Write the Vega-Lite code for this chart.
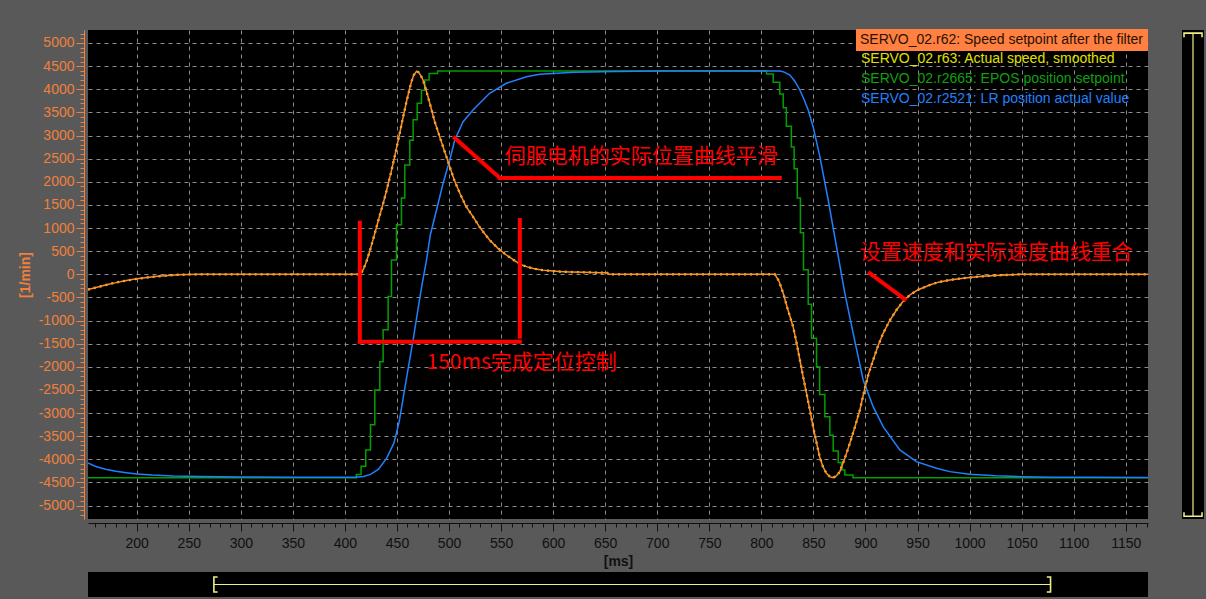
{
  "$schema": "https://vega.github.io/schema/vega-lite/v6.json",
  "background": "#595959",
  "padding": {"left": 18, "top": 26, "right": 0, "bottom": 3},
  "config": {
    "view": {"fill": "#000000", "stroke": null},
    "font": "Liberation Sans"
  },
  "datasets": {
    "speed": [
      {"t": 153.2, "r62": -330, "r63": -330},
      {"t": 160, "r62": -290, "r63": -290},
      {"t": 170, "r62": -232, "r63": -232},
      {"t": 180, "r62": -180, "r63": -180},
      {"t": 190, "r62": -135, "r63": -135},
      {"t": 200, "r62": -98, "r63": -98},
      {"t": 210, "r62": -68, "r63": -68},
      {"t": 220, "r62": -44, "r63": -44},
      {"t": 230, "r62": -25, "r63": -25},
      {"t": 240, "r62": -10, "r63": -10},
      {"t": 250, "r62": -2, "r63": -2},
      {"t": 260, "r62": 0, "r63": 0},
      {"t": 415, "r62": 0, "r63": 0},
      {"t": 418, "r62": 120, "r63": 120},
      {"t": 421, "r62": 300, "r63": 300},
      {"t": 424, "r62": 510, "r63": 510},
      {"t": 427, "r62": 750, "r63": 750},
      {"t": 430, "r62": 990, "r63": 990},
      {"t": 433, "r62": 1240, "r63": 1240},
      {"t": 436.7, "r62": 1530, "r63": 1530},
      {"t": 440, "r62": 1810, "r63": 1810},
      {"t": 444.7, "r62": 2240, "r63": 2240},
      {"t": 448, "r62": 2570, "r63": 2570},
      {"t": 452.7, "r62": 3060, "r63": 3060},
      {"t": 456, "r62": 3410, "r63": 3410},
      {"t": 459, "r62": 3720, "r63": 3720},
      {"t": 462, "r62": 4000, "r63": 4000},
      {"t": 464, "r62": 4170, "r63": 4170},
      {"t": 466, "r62": 4300, "r63": 4300},
      {"t": 468.8, "r62": 4390, "r63": 4390},
      {"t": 471, "r62": 4360, "r63": 4360},
      {"t": 473, "r62": 4290, "r63": 4290},
      {"t": 475, "r62": 4200, "r63": 4200},
      {"t": 478, "r62": 3980, "r63": 3980},
      {"t": 481.5, "r62": 3697, "r63": 3697},
      {"t": 486, "r62": 3320, "r63": 3320},
      {"t": 491, "r62": 2975, "r63": 2975},
      {"t": 496, "r62": 2640, "r63": 2640},
      {"t": 500.7, "r62": 2326, "r63": 2326},
      {"t": 505, "r62": 2040, "r63": 2040},
      {"t": 510.4, "r62": 1751, "r63": 1751},
      {"t": 516, "r62": 1480, "r63": 1480},
      {"t": 523, "r62": 1245, "r63": 1245},
      {"t": 530, "r62": 1000, "r63": 1000},
      {"t": 539, "r62": 741, "r63": 741},
      {"t": 547, "r62": 560, "r63": 560},
      {"t": 555, "r62": 417, "r63": 417},
      {"t": 562, "r62": 310, "r63": 310},
      {"t": 568, "r62": 220, "r63": 220},
      {"t": 575, "r62": 160, "r63": 160},
      {"t": 583, "r62": 115, "r63": 115},
      {"t": 590, "r62": 90, "r63": 90},
      {"t": 597, "r62": 75, "r63": 75},
      {"t": 606, "r62": 60, "r63": 60},
      {"t": 616, "r62": 50, "r63": 50},
      {"t": 630, "r62": 42, "r63": 42},
      {"t": 645, "r62": 36, "r63": 36},
      {"t": 652, "r62": 32, "r63": 32},
      {"t": 653, "r62": 0, "r63": 0},
      {"t": 813, "r62": 0, "r63": 0},
      {"t": 817, "r62": -150, "r63": -150},
      {"t": 821, "r62": -411, "r63": -411},
      {"t": 825, "r62": -730, "r63": -730},
      {"t": 830.5, "r62": -1132, "r63": -1132},
      {"t": 834, "r62": -1500, "r63": -1500},
      {"t": 837, "r62": -1853, "r63": -1853},
      {"t": 840, "r62": -2200, "r63": -2200},
      {"t": 843.4, "r62": -2573, "r63": -2573},
      {"t": 847, "r62": -2980, "r63": -2980},
      {"t": 849.7, "r62": -3294, "r63": -3294},
      {"t": 853, "r62": -3640, "r63": -3640},
      {"t": 856, "r62": -3943, "r63": -3943},
      {"t": 859, "r62": -4150, "r63": -4150},
      {"t": 862.5, "r62": -4302, "r63": -4302},
      {"t": 866, "r62": -4380, "r63": -4380},
      {"t": 869, "r62": -4395, "r63": -4395},
      {"t": 872, "r62": -4360, "r63": -4360},
      {"t": 875.4, "r62": -4266, "r63": -4266},
      {"t": 880, "r62": -3990, "r63": -3990},
      {"t": 885, "r62": -3654, "r63": -3654},
      {"t": 890, "r62": -3290, "r63": -3290},
      {"t": 894.6, "r62": -2933, "r63": -2933},
      {"t": 899.4, "r62": -2465, "r63": -2465},
      {"t": 903, "r62": -2150, "r63": -2150},
      {"t": 907.4, "r62": -1853, "r63": -1853},
      {"t": 912, "r62": -1550, "r63": -1550},
      {"t": 917, "r62": -1276, "r63": -1276},
      {"t": 923, "r62": -1010, "r63": -1010},
      {"t": 929.8, "r62": -772, "r63": -772},
      {"t": 936, "r62": -590, "r63": -590},
      {"t": 942.6, "r62": -447, "r63": -447},
      {"t": 950, "r62": -340, "r63": -340},
      {"t": 961.8, "r62": -231, "r63": -231},
      {"t": 970, "r62": -170, "r63": -170},
      {"t": 981, "r62": -123, "r63": -123},
      {"t": 990, "r62": -95, "r63": -95},
      {"t": 1000, "r62": -70, "r63": -70},
      {"t": 1010, "r62": -48, "r63": -48},
      {"t": 1020, "r62": -32, "r63": -32},
      {"t": 1030, "r62": -20, "r63": -20},
      {"t": 1040, "r62": -10, "r63": -10},
      {"t": 1048, "r62": 0, "r63": 0},
      {"t": 1171.4, "r62": 0, "r63": 0}
    ],
    "epos": [
      {"t": 153.2, "r2665": -4400},
      {"t": 411, "r2665": -4330},
      {"t": 415.5, "r2665": -4150},
      {"t": 420, "r2665": -3800},
      {"t": 424.5, "r2665": -3250},
      {"t": 428.7, "r2665": -2500},
      {"t": 433.5, "r2665": -1890},
      {"t": 436.7, "r2665": -1200},
      {"t": 441.5, "r2665": -480},
      {"t": 444.7, "r2665": 310},
      {"t": 449.5, "r2665": 1070},
      {"t": 454.3, "r2665": 1650},
      {"t": 457.5, "r2665": 2360},
      {"t": 462.3, "r2665": 2900},
      {"t": 465.5, "r2665": 3340},
      {"t": 469.4, "r2665": 3700},
      {"t": 473.5, "r2665": 3980},
      {"t": 476.7, "r2665": 4200},
      {"t": 480.9, "r2665": 4340},
      {"t": 489, "r2665": 4395},
      {"t": 805, "r2665": 4330},
      {"t": 811.4, "r2665": 4150},
      {"t": 817.7, "r2665": 3900},
      {"t": 821, "r2665": 3600},
      {"t": 824, "r2665": 3200},
      {"t": 828.8, "r2665": 2750},
      {"t": 831.5, "r2665": 2280},
      {"t": 834.5, "r2665": 1650},
      {"t": 837.5, "r2665": 900},
      {"t": 840.5, "r2665": 100},
      {"t": 845, "r2665": -650},
      {"t": 848.2, "r2665": -1380},
      {"t": 853, "r2665": -2000},
      {"t": 856, "r2665": -2600},
      {"t": 861, "r2665": -3080},
      {"t": 865.8, "r2665": -3480},
      {"t": 869, "r2665": -3820},
      {"t": 873.8, "r2665": -4070},
      {"t": 877, "r2665": -4230},
      {"t": 880.2, "r2665": -4340},
      {"t": 888, "r2665": -4400},
      {"t": 1171.4, "r2665": -4400}
    ],
    "lr": [
      {"t": 153.2, "r2521": -4080},
      {"t": 160, "r2521": -4150},
      {"t": 170, "r2521": -4215},
      {"t": 180, "r2521": -4260},
      {"t": 190, "r2521": -4290},
      {"t": 200, "r2521": -4315},
      {"t": 215, "r2521": -4340},
      {"t": 235, "r2521": -4360},
      {"t": 260, "r2521": -4372},
      {"t": 300, "r2521": -4382},
      {"t": 350, "r2521": -4388},
      {"t": 410, "r2521": -4390},
      {"t": 418, "r2521": -4370},
      {"t": 425, "r2521": -4320},
      {"t": 432, "r2521": -4220},
      {"t": 440, "r2521": -3980},
      {"t": 447, "r2521": -3650},
      {"t": 452, "r2521": -3200},
      {"t": 457.5, "r2521": -2465},
      {"t": 461, "r2521": -2000},
      {"t": 465.5, "r2521": -1420},
      {"t": 470.3, "r2521": -735},
      {"t": 474, "r2521": -230},
      {"t": 478.3, "r2521": 300},
      {"t": 482, "r2521": 850},
      {"t": 488, "r2521": 1390},
      {"t": 494.3, "r2521": 1967},
      {"t": 500.7, "r2521": 2471},
      {"t": 505.5, "r2521": 2903},
      {"t": 513.5, "r2521": 3299},
      {"t": 523, "r2521": 3552},
      {"t": 539, "r2521": 3913},
      {"t": 555, "r2521": 4129},
      {"t": 574.4, "r2521": 4271},
      {"t": 587, "r2521": 4323},
      {"t": 620, "r2521": 4365},
      {"t": 660, "r2521": 4385},
      {"t": 700, "r2521": 4392},
      {"t": 817.7, "r2521": 4392},
      {"t": 822, "r2521": 4370},
      {"t": 827.4, "r2521": 4308},
      {"t": 832, "r2521": 4180},
      {"t": 837, "r2521": 3984},
      {"t": 841, "r2521": 3780},
      {"t": 845, "r2521": 3552},
      {"t": 849.7, "r2521": 3191},
      {"t": 856.2, "r2521": 2542},
      {"t": 864.2, "r2521": 1606},
      {"t": 872.2, "r2521": 597},
      {"t": 880.2, "r2521": -411},
      {"t": 888.2, "r2521": -1276},
      {"t": 897.8, "r2521": -2285},
      {"t": 907.4, "r2521": -2862},
      {"t": 917, "r2521": -3294},
      {"t": 933, "r2521": -3798},
      {"t": 949, "r2521": -4051},
      {"t": 968.2, "r2521": -4194},
      {"t": 981, "r2521": -4266},
      {"t": 1000, "r2521": -4320},
      {"t": 1025, "r2521": -4355},
      {"t": 1050, "r2521": -4375},
      {"t": 1080, "r2521": -4386},
      {"t": 1120, "r2521": -4390},
      {"t": 1171.4, "r2521": -4392}
    ],
    "noteLines": [
      {"t": 505.5, "v": 2946, "t2": 548.8, "v2": 2082},
      {"t": 548.8, "v": 2082, "t2": 817.7, "v2": 2082},
      {"t": 414.3, "v": 1115, "t2": 414.3, "v2": -1457},
      {"t": 414.3, "v": -1457, "t2": 568, "v2": -1457},
      {"t": 568, "v": 1174, "t2": 568, "v2": -1349},
      {"t": 904.2, "v": 22, "t2": 937.8, "v2": -540}
    ],
    "noteText": [
      {"t": 553.6, "v": 2542, "text": "伺服电机的实际位置曲线平滑"},
      {"t": 478.4, "v": -1924, "text": "150ms完成定位控制"},
      {"t": 894.6, "v": 467, "text": "设置速度和实际速度曲线重合"}
    ]
  },
  "concat": [
    {
      "width": 1060,
      "height": 489,
      "encoding": {
        "x": {
          "field": "t", "type": "quantitative",
          "scale": {"domain": [153.2, 1171.4], "nice": false, "zero": false},
          "axis": {
            "values": [160,170,180,190,200,210,220,230,240,250,260,270,280,290,300,310,320,330,340,350,360,370,380,390,400,410,420,430,440,450,460,470,480,490,500,510,520,530,540,550,560,570,580,590,600,610,620,630,640,650,660,670,680,690,700,710,720,730,740,750,760,770,780,790,800,810,820,830,840,850,860,870,880,890,900,910,920,930,940,950,960,970,980,990,1000,1010,1020,1030,1040,1050,1060,1070,1080,1090,1100,1110,1120,1130,1140,1150,1160,1170],
            "labelExpr": "datum.value % 50 === 0 ? '' + datum.value : ''",
            "tickSize": 8,
            "tickDash": {"condition": {"test": "datum.value % 50 === 0", "value": [8, 0]}, "value": [4, 8]},
            "grid": true,
            "gridColor": {"condition": {"test": "datum.value % 50 === 0", "value": "#8a8a8a"}, "value": "rgba(0,0,0,0)"},
            "gridDash": [4, 4], "gridWidth": 1,
            "domainColor": "#101010", "tickColor": "#101010", "labelColor": "#101010",
            "labelFont": "Liberation Sans", "labelFontSize": 14, "labelPadding": 5,
            "labelOverlap": false, "labelFlush": false,
            "offset": 4,
            "title": "[ms]", "titleFont": "Liberation Sans", "titleFontSize": 14, "titleFontWeight": "bold", "titleColor": "#101010", "titlePadding": 4
          }
        },
        "y": {
          "field": "v", "type": "quantitative",
          "scale": {"domain": [-5290, 5281], "nice": false, "zero": false},
          "axis": {
            "values": [-5200,-5100,-5000,-4900,-4800,-4700,-4600,-4500,-4400,-4300,-4200,-4100,-4000,-3900,-3800,-3700,-3600,-3500,-3400,-3300,-3200,-3100,-3000,-2900,-2800,-2700,-2600,-2500,-2400,-2300,-2200,-2100,-2000,-1900,-1800,-1700,-1600,-1500,-1400,-1300,-1200,-1100,-1000,-900,-800,-700,-600,-500,-400,-300,-200,-100,0,100,200,300,400,500,600,700,800,900,1000,1100,1200,1300,1400,1500,1600,1700,1800,1900,2000,2100,2200,2300,2400,2500,2600,2700,2800,2900,3000,3100,3200,3300,3400,3500,3600,3700,3800,3900,4000,4100,4200,4300,4400,4500,4600,4700,4800,4900,5000,5100,5200],
            "labelExpr": "datum.value % 500 === 0 ? '' + datum.value : ''",
            "tickSize": 8,
            "tickDash": {"condition": {"test": "datum.value % 500 === 0", "value": [8, 0]}, "value": [4, 8]},
            "grid": true,
            "gridColor": {"condition": {"test": "datum.value % 500 === 0", "value": "#8a8a8a"}, "value": "rgba(0,0,0,0)"},
            "gridDash": [4, 4], "gridWidth": 1,
            "domainColor": "#F0803C", "tickColor": "#F0803C", "labelColor": "#F0803C",
            "labelFont": "Liberation Sans", "labelFontSize": 14, "labelPadding": 2,
            "labelOverlap": false, "labelFlush": false,
            "offset": 4,
            "title": "[1/min]", "titleFont": "Liberation Sans", "titleFontSize": 14, "titleFontWeight": "bold", "titleColor": "#F0803C", "titlePadding": 6
          }
        }
      },
      "layer": [
        {
          "data": {"name": "epos"},
          "transform": [{"fold": ["r2665"], "as": ["s", "v"]}],
          "mark": {"type": "line", "interpolate": "step-after", "strokeWidth": 1.5, "clip": true},
          "encoding": {
            "stroke": {
              "datum": "SERVO_02.r2665: EPOS position setpoint",
              "scale": {
                "domain": ["SERVO_02.r63: Actual speed, smoothed", "SERVO_02.r2665: EPOS position setpoint", "SERVO_02.r2521: LR position actual value"],
                "range": ["#E8E800", "#00A000", "#2080FF"]
              },
              "legend": {
                "title": null,
                "orient": "none",
                "legendX": 772,
                "legendY": 22,
                "padding": 0,
                "symbolSize": 0,
                "symbolOpacity": 0,
                "symbolStrokeWidth": 0,
                "labelFont": "Liberation Sans",
                "labelFontSize": 14,
                "labelOffset": -13,
                "labelLimit": 400,
                "rowPadding": 6,
                "encode": {
                  "symbols": {"update": {"opacity": {"value": 0}, "strokeOpacity": {"value": 0}, "strokeWidth": {"value": 0}, "size": {"value": 0}}},
                  "labels": {"update": {"fill": {"signal": "datum.value === 'SERVO_02.r63: Actual speed, smoothed' ? '#E0E000' : datum.value === 'SERVO_02.r2665: EPOS position setpoint' ? '#10A010' : '#2080FF'"}}}
                }
              }
            }
          }
        },
        {
          "data": {"name": "lr"},
          "transform": [{"fold": ["r2521"], "as": ["s", "v"]}],
          "mark": {"type": "line", "strokeWidth": 1.5, "clip": true},
          "encoding": {
            "stroke": {"datum": "SERVO_02.r2521: LR position actual value", "legend": null}
          }
        },
        {
          "data": {"name": "speed"},
          "transform": [{"fold": ["r63"], "as": ["s", "v"]}],
          "mark": {"type": "line", "strokeWidth": 2.3, "strokeDash": [2, 4], "clip": true},
          "encoding": {
            "stroke": {"datum": "SERVO_02.r63: Actual speed, smoothed", "legend": null}
          }
        },
        {
          "data": {"name": "speed"},
          "transform": [{"fold": ["r62"], "as": ["s", "v"]}],
          "mark": {"type": "line", "strokeWidth": 1.5, "clip": true},
          "encoding": {
            "color": {
              "datum": "SERVO_02.r62: Speed setpoint after the filter",
              "scale": {"domain": ["SERVO_02.r62: Speed setpoint after the filter"], "range": ["#FF8C30"]},
              "legend": {
                "title": null,
                "orient": "none",
                "legendX": 768,
                "legendY": -1,
                "padding": 4,
                "fillColor": "#FF8040",
                "symbolSize": 0,
                "symbolOpacity": 0,
                "symbolStrokeWidth": 0,
                "labelFont": "Liberation Sans",
                "labelFontSize": 14,
                "labelColor": "#2a1000",
                "labelOffset": -14,
                "labelLimit": 400,
                "encode": {
                  "symbols": {"update": {"opacity": {"value": 0}, "strokeOpacity": {"value": 0}, "strokeWidth": {"value": 0}, "size": {"value": 0}}}
                }
              }
            }
          }
        },
        {
          "data": {"name": "noteLines"},
          "mark": {"type": "rule", "color": "#FF0000", "strokeWidth": 4, "strokeCap": "square"},
          "encoding": {
            "x2": {"field": "t2"},
            "y2": {"field": "v2"}
          }
        },
        {
          "data": {"name": "noteText"},
          "mark": {"type": "text", "color": "#FF0000", "font": "Noto Sans CJK SC", "fontSize": 21, "align": "left", "baseline": "middle"},
          "encoding": {
            "text": {"field": "text"}
          }
        }
      ]
    },
    {
      "width": 22,
      "height": 489,
      "data": {"values": [{"top": 5281, "bottom": -5290}]},
      "layer": [
        {
          "mark": {"type": "rule", "color": "#EEEE88", "strokeWidth": 1.2},
          "encoding": {
            "x": {"datum": 0, "type": "quantitative", "scale": {"domain": [-1, 1]}, "axis": null},
            "y": {"field": "top", "type": "quantitative", "scale": {"domain": [-5350, 5350], "nice": false, "zero": false}, "axis": null},
            "y2": {"field": "bottom"}
          }
        },
        {
          "transform": [{"fold": ["top", "bottom"], "as": ["edge", "value"]}],
          "mark": {"type": "point", "filled": false, "color": "#EEEE88", "strokeWidth": 1.6, "size": 324, "opacity": 1},
          "encoding": {
            "x": {"datum": 0, "type": "quantitative", "axis": null},
            "y": {"field": "value", "type": "quantitative", "axis": null},
            "shape": {"field": "edge", "type": "nominal", "scale": {"domain": ["top", "bottom"], "range": ["M -1 0.45 L -1 0 L 1 0 L 1 0.45", "M -1 -0.45 L -1 0 L 1 0 L 1 -0.45"]}, "legend": null}
          }
        }
      ]
    },
    {
      "width": 1060,
      "height": 25,
      "data": {"values": [{"start": 153.2, "end": 1171.4}]},
      "layer": [
        {
          "mark": {"type": "rule", "color": "#EEEE88", "strokeWidth": 1.2},
          "encoding": {
            "x": {"field": "start", "type": "quantitative", "scale": {"domain": [0, 1290], "nice": false, "zero": false}, "axis": null},
            "x2": {"field": "end"},
            "y": {"datum": 0, "type": "quantitative", "scale": {"domain": [-1, 1]}, "axis": null}
          }
        },
        {
          "transform": [{"fold": ["start", "end"], "as": ["edge", "value"]}],
          "mark": {"type": "point", "filled": false, "color": "#EEEE88", "strokeWidth": 1.6, "size": 225, "opacity": 1},
          "encoding": {
            "x": {"field": "value", "type": "quantitative", "axis": null},
            "y": {"datum": 0, "type": "quantitative", "axis": null},
            "shape": {"field": "edge", "type": "nominal", "scale": {"domain": ["start", "end"], "range": ["M 0.5 -1 L 0 -1 L 0 1 L 0.5 1", "M -0.5 -1 L 0 -1 L 0 1 L -0.5 1"]}, "legend": null}
          }
        }
      ]
    }
  ],
  "columns": 2,
  "align": "each",
  "bounds": "flush",
  "spacing": {"row": 53, "column": 34},
  "resolve": {"scale": {"color": "independent", "stroke": "independent", "shape": "independent"}}
}
